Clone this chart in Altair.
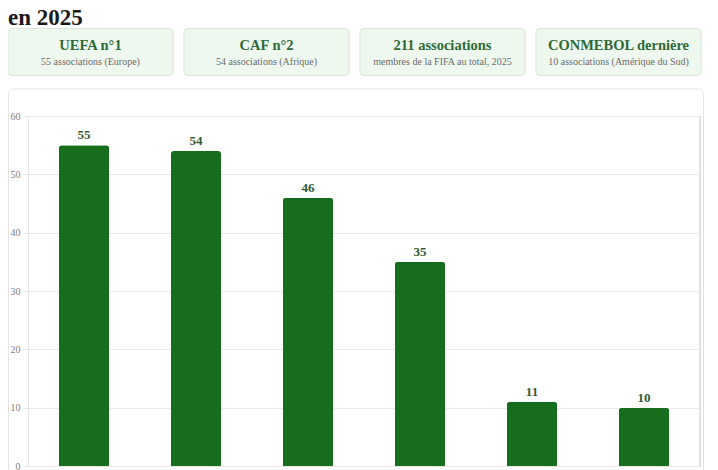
import altair as alt
import pandas as pd

# ---- data ----
confederations = ["UEFA", "CAF", "AFC", "CONCACAF", "OFC", "CONMEBOL"]
associations = [55, 54, 46, 35, 11, 10]

card_ids = ["c1", "c2", "c3", "c4"]
card_titles = ["UEFA n°1", "CAF n°2", "211 associations", "CONMEBOL dernière"]
card_subtitles = [
    "55 associations (Europe)",
    "54 associations (Afrique)",
    "membres de la FIFA au total, 2025",
    "10 associations (Amérique du Sud)",
]
title_text = ["en 2025"]

W, H = 672, 350
FONT = "Liberation Serif"
BAR = "#166e1d"

bars_df = pd.DataFrame({"conf": confederations, "n": associations})
cards_df = pd.DataFrame({"card": card_ids, "title": card_titles, "sub": card_subtitles})
title_df = pd.DataFrame({"t": title_text})

x_scale = alt.Scale(paddingInner=0.55, paddingOuter=0.275)
x_enc = alt.X("conf:N", sort=confederations, scale=x_scale, axis=None)
y_enc = alt.Y(
    "n:Q",
    scale=alt.Scale(domain=[0, 60]),
    axis=alt.Axis(title=None, values=[0, 10, 20, 30, 40, 50, 60], labelFont=FONT,
                  labelFontSize=10, labelColor="#808080", tickColor="#e6e6e6", tickSize=5,
                  labelPadding=3, domain=False, gridColor="#e8e8e8", gridWidth=1),
)

# container box (outline only)
container = alt.Chart(title_df).mark_rect(
    fill="transparent", stroke="#e4e4e4", strokeWidth=1, cornerRadius=6
).encode(x=alt.value(-19.5), x2=alt.value(W + 3.5), y=alt.value(-27), y2=alt.value(H + 60))

left_rule = alt.Chart(title_df).mark_rule(color="#e6e6e6").encode(
    x=alt.value(0.5), y=alt.value(0), y2=alt.value(H)
)
right_rule = alt.Chart(title_df).mark_rule(color="#e6e6e6").encode(
    x=alt.value(W - 0.5), y=alt.value(0), y2=alt.value(H)
)

bars = alt.Chart(bars_df).mark_bar(
    color=BAR, cornerRadiusTopLeft=3, cornerRadiusTopRight=3
).encode(x=x_enc, y=y_enc)

labels = alt.Chart(bars_df).mark_text(
    font=FONT, fontWeight="bold", fontSize=13, color="#2f5a36", dy=-10
).encode(x=x_enc, y=alt.Y("n:Q"), text="n:Q")

bar_layer = alt.layer(bars, labels)

card_x = alt.X(
    "card:N", sort=card_ids,
    scale=alt.Scale(range=[-20, 673], paddingInner=0.0625, paddingOuter=0),
    axis=None,
)
card_rects = alt.Chart(cards_df).mark_bar(
    fill="#eff8ef", stroke="#d8e6d8", strokeWidth=1, cornerRadius=4
).encode(x=card_x, y=alt.value(-87.5), y2=alt.value(-40.5))

card_title_txt = alt.Chart(cards_df).mark_text(
    font=FONT, fontWeight="bold", fontSize=14.5, color="#2d6a37", baseline="middle"
).encode(x=card_x, y=alt.value(-70.5), text="title:N")

card_sub_txt = alt.Chart(cards_df).mark_text(
    font=FONT, fontSize=10, color="#6b6b6b", baseline="middle"
).encode(x=card_x, y=alt.value(-54), text="sub:N")

title_mark = alt.Chart(title_df).mark_text(
    font=FONT, fontWeight="bold", fontSize=23, color="#1a1a1a", align="left",
    baseline="alphabetic"
).encode(x=alt.value(-20), y=alt.value(-91.5), text="t:N")

cards_layer = alt.layer(card_rects, card_title_txt, card_sub_txt)

chart = alt.layer(
    container, left_rule, right_rule, bar_layer, cards_layer, title_mark
).resolve_scale(x="independent").properties(
    width=W, height=H,
    autosize=alt.AutoSizeParams(type="none"),
    padding={"left": 20, "top": 108, "right": 10, "bottom": 4},
).configure_view(stroke=None).configure(background="white")

chart.save("out.html", embed_options={"renderer": "svg", "actions": False})
